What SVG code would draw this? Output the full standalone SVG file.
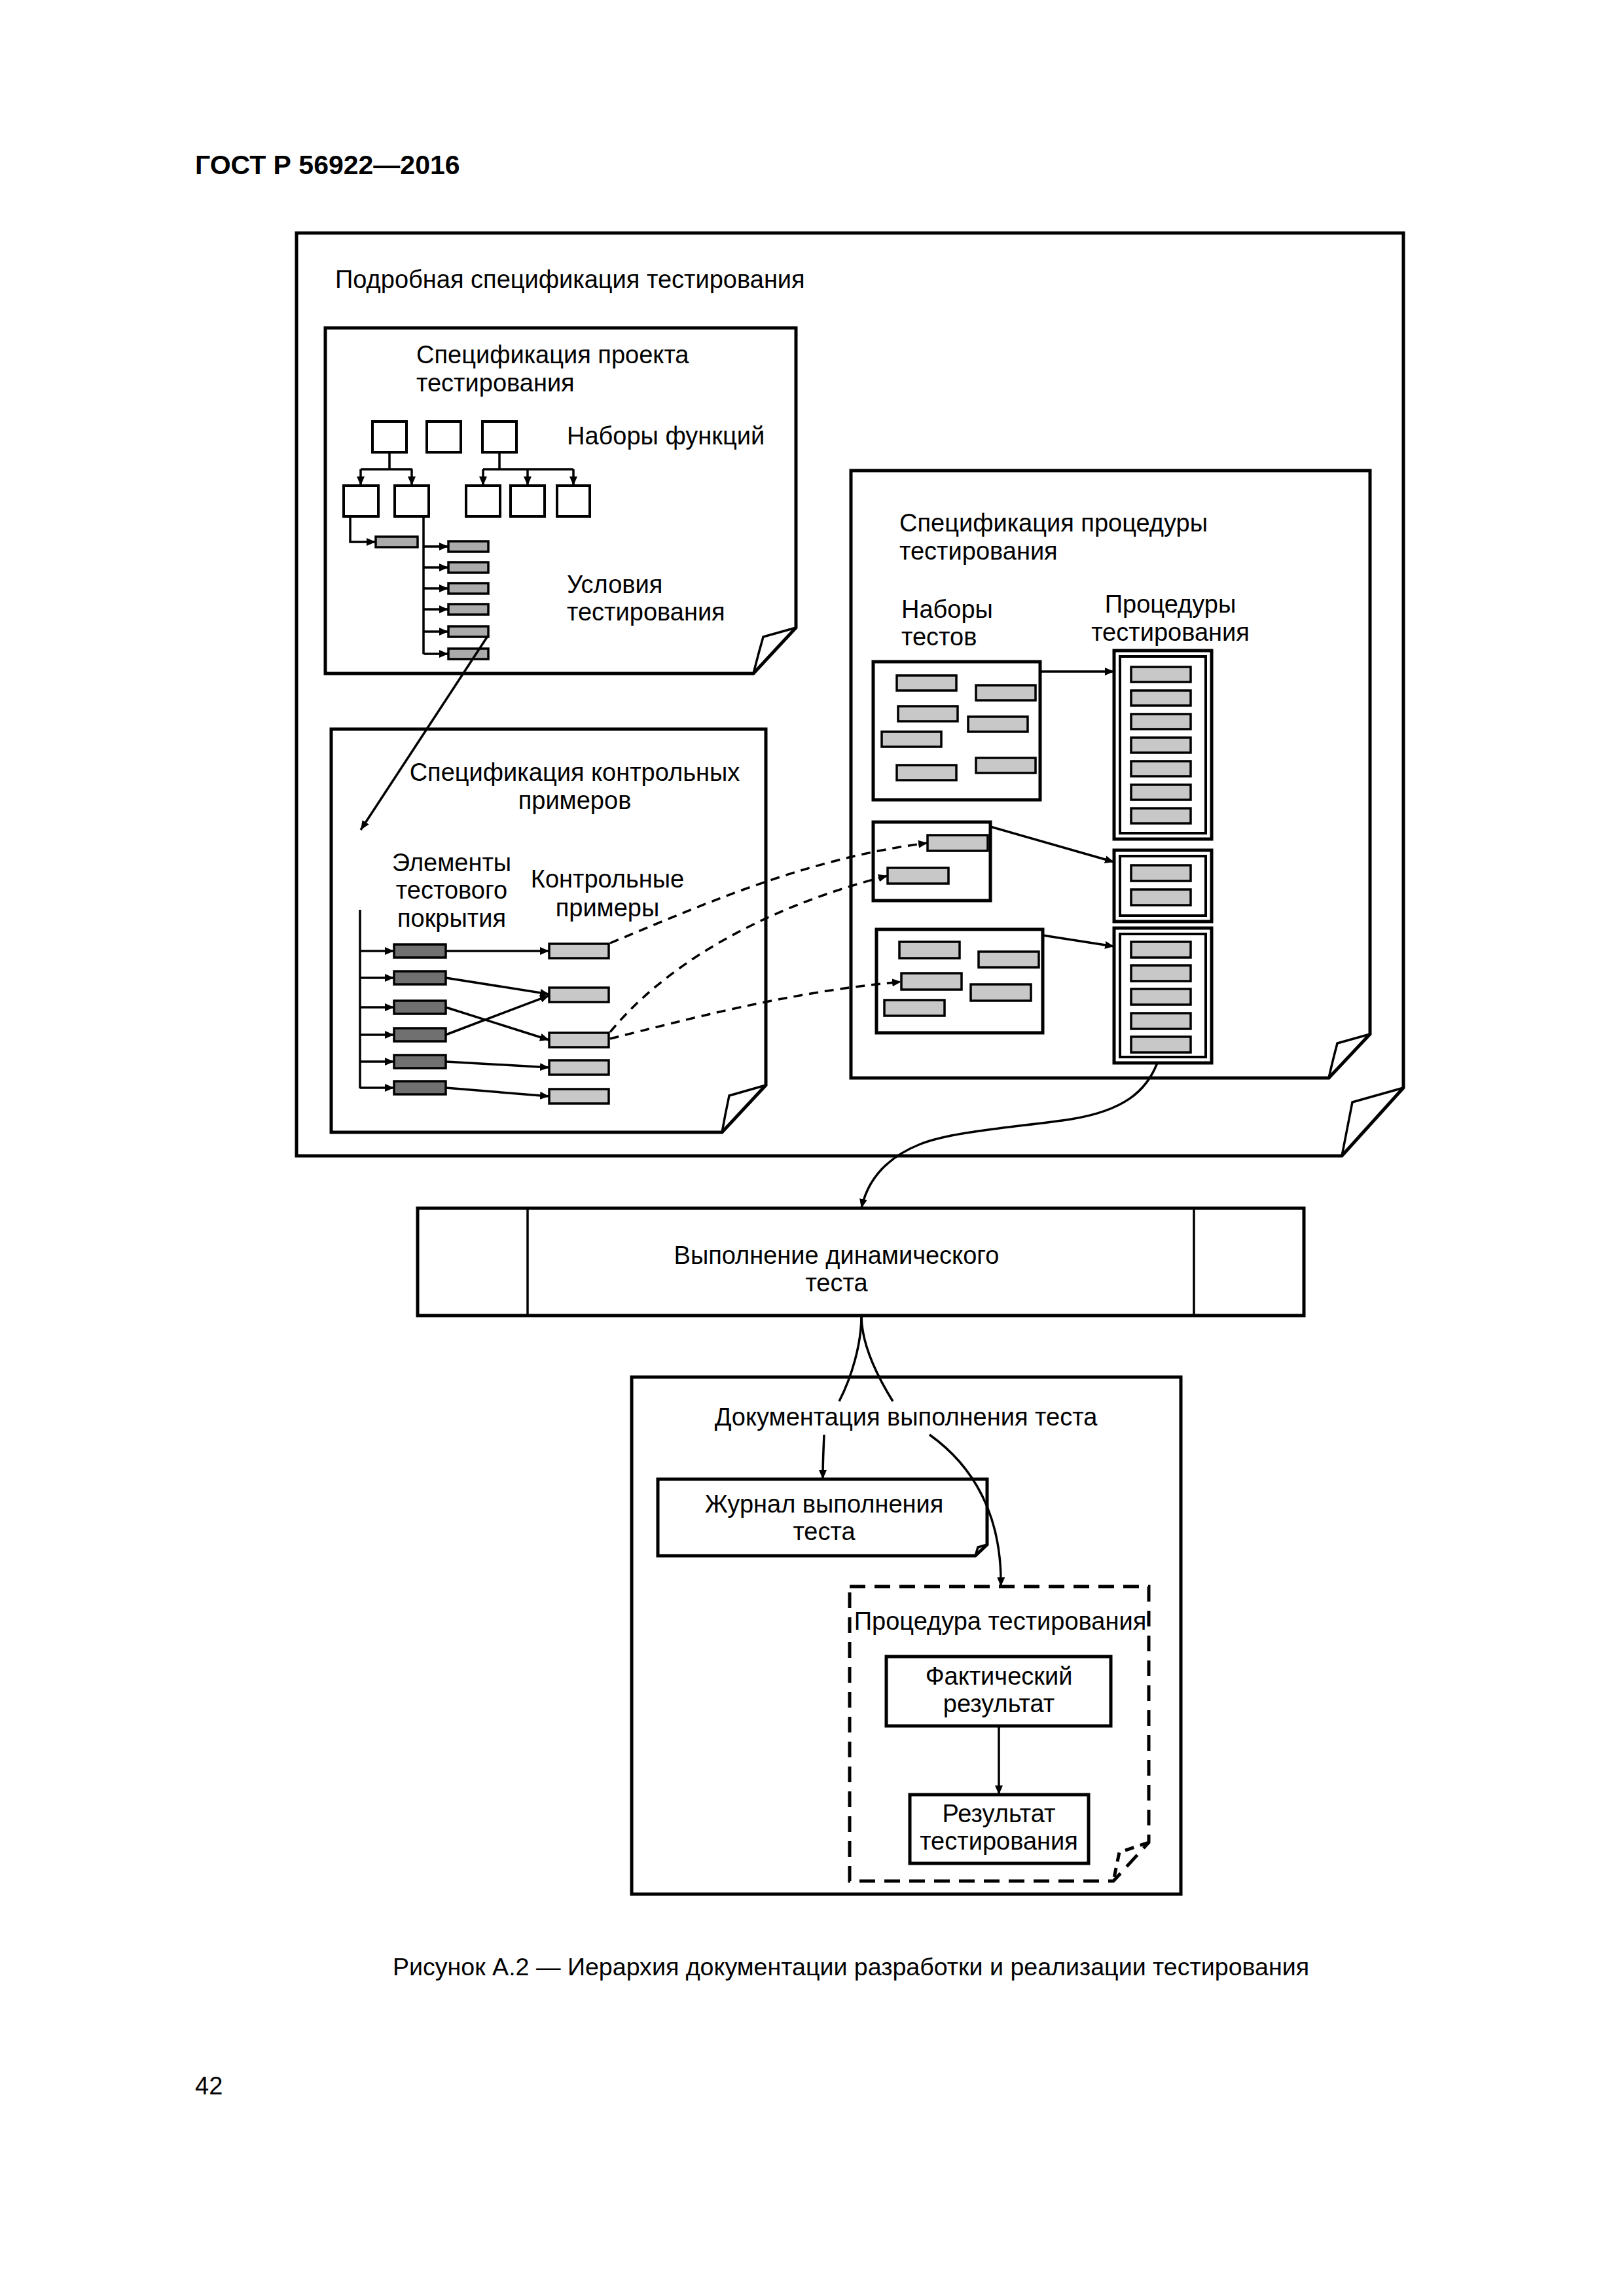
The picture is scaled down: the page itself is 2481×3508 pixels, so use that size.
<svg xmlns="http://www.w3.org/2000/svg" width="2481" height="3508" viewBox="0 0 2481 3508">
<style>
.t{font-family:"Liberation Sans",Arial,sans-serif;font-size:38px;fill:#000}
.c{text-anchor:middle}
.b{font-weight:bold;font-size:41px}
.box{fill:#fff;stroke:#000;stroke-width:5;stroke-linejoin:miter}
.sq{fill:#fff;stroke:#000;stroke-width:4}
.ln{fill:none;stroke:#000;stroke-width:3.5}
.bar{stroke:#000;stroke-width:3.5}
.dk{fill:#707070}
.lt{fill:#c8c8c8}
.md{fill:#ababab}
.dash{fill:none;stroke:#000;stroke-width:3.5;stroke-dasharray:14 10}
.dbox{fill:#fff;stroke:#000;stroke-width:5;stroke-dasharray:24 14}
.frm{fill:none;stroke:#000;stroke-width:4}
</style>
<defs>
<marker id="ah" viewBox="0 0 14 12" refX="14" refY="6" markerWidth="14" markerHeight="12" orient="auto" markerUnits="userSpaceOnUse">
<path d="M0,0 L14,6 L0,12 z" fill="#000"/>
</marker>
</defs>
<rect width="2481" height="3508" fill="#fff"/>
<text class="t b" x="298" y="266">ГОСТ Р 56922—2016</text>

<g id="detailed-spec">
<path class="box" d="M453,356 H2144 V1662 L2050,1766 H453 Z"/>
<path class="ln" d="M2144,1662 L2066,1684 Q2058,1725 2050,1766"/>
<text class="t" x="512" y="440">Подробная спецификация тестирования</text>
</g>

<g id="test-design-spec">
<path class="box" d="M497,501 H1216 V959 L1151,1029 H497 Z"/>
<path class="ln" d="M1216,959 L1166,973 Q1158,1001 1151,1029"/>
<text class="t" x="636" y="555">Спецификация проекта</text>
<text class="t" x="636" y="598">тестирования</text>
<text class="t" x="866" y="679">Наборы функций</text>
<text class="t" x="866" y="906">Условия</text>
<text class="t" x="866" y="948">тестирования</text>
<rect class="sq" x="569" y="644" width="52" height="47"/>
<rect class="sq" x="652" y="644" width="52" height="47"/>
<rect class="sq" x="737" y="644" width="52" height="47"/>
<rect class="sq" x="525" y="742" width="53" height="47"/>
<rect class="sq" x="603" y="742" width="52" height="47"/>
<rect class="sq" x="712" y="742" width="52" height="47"/>
<rect class="sq" x="780" y="742" width="52" height="47"/>
<rect class="sq" x="851" y="742" width="50" height="47"/>
<rect class="bar md" x="574" y="820" width="64" height="16"/>
<rect class="bar md" x="685" y="827" width="61" height="16"/>
<rect class="bar md" x="685" y="859" width="61" height="16"/>
<rect class="bar md" x="685" y="891" width="61" height="16"/>
<rect class="bar md" x="685" y="923" width="61" height="16"/>
<rect class="bar md" x="685" y="957" width="61" height="16"/>
<rect class="bar md" x="685" y="991" width="61" height="16"/>
</g>

<g id="test-case-spec">
<path class="box" d="M506,1114 H1170 V1658 L1103,1730 H506 Z"/>
<path class="ln" d="M1170,1658 L1114,1674 Q1108,1702 1103,1730"/>
<text class="t c" x="878" y="1193">Спецификация контрольных</text>
<text class="t c" x="878" y="1236">примеров</text>
<text class="t c" x="690" y="1331">Элементы</text>
<text class="t c" x="690" y="1373">тестового</text>
<text class="t c" x="690" y="1416">покрытия</text>
<text class="t c" x="928" y="1356">Контрольные</text>
<text class="t c" x="928" y="1400">примеры</text>
<rect class="bar dk" x="602" y="1443" width="79" height="20"/>
<rect class="bar dk" x="602" y="1484" width="79" height="20"/>
<rect class="bar dk" x="602" y="1529" width="79" height="20"/>
<rect class="bar dk" x="602" y="1571" width="79" height="20"/>
<rect class="bar dk" x="602" y="1612" width="79" height="20"/>
<rect class="bar dk" x="602" y="1652" width="79" height="20"/>
<rect class="bar lt" x="839" y="1442" width="91" height="22"/>
<rect class="bar lt" x="839" y="1509" width="91" height="22"/>
<rect class="bar lt" x="839" y="1578" width="91" height="22"/>
<rect class="bar lt" x="839" y="1620" width="91" height="22"/>
<rect class="bar lt" x="839" y="1664" width="91" height="22"/>
</g>

<g id="test-procedure-spec">
<path class="box" d="M1300,719 H2093 V1580 L2030,1647 H1300 Z"/>
<path class="ln" d="M2093,1580 L2043,1594 Q2036,1620 2030,1647"/>
<text class="t" x="1374" y="812">Спецификация процедуры</text>
<text class="t" x="1374" y="855">тестирования</text>
<text class="t" x="1377" y="944">Наборы</text>
<text class="t" x="1377" y="986">тестов</text>
<text class="t c" x="1788" y="936">Процедуры</text>
<text class="t c" x="1788" y="979">тестирования</text>
</g>

<g id="test-set-1">
<rect class="box" x="1334" y="1011" width="255" height="211"/>
<rect class="bar lt" x="1370" y="1032" width="91" height="23"/>
<rect class="bar lt" x="1491" y="1047" width="91" height="23"/>
<rect class="bar lt" x="1372" y="1079" width="91" height="23"/>
<rect class="bar lt" x="1479" y="1095" width="91" height="23"/>
<rect class="bar lt" x="1347" y="1118" width="91" height="23"/>
<rect class="bar lt" x="1370" y="1169" width="91" height="23"/>
<rect class="bar lt" x="1491" y="1158" width="91" height="23"/>
</g>
<g id="test-set-2">
<rect class="box" x="1334" y="1256" width="179" height="120"/>
<rect class="bar lt" x="1417" y="1276" width="92" height="24"/>
<rect class="bar lt" x="1356" y="1326" width="93" height="24"/>
</g>
<g id="test-set-3">
<rect class="box" x="1339" y="1420" width="254" height="158"/>
<rect class="bar lt" x="1374" y="1439" width="92" height="25"/>
<rect class="bar lt" x="1495" y="1454" width="92" height="24"/>
<rect class="bar lt" x="1377" y="1487" width="92" height="25"/>
<rect class="bar lt" x="1483" y="1504" width="92" height="25"/>
<rect class="bar lt" x="1351" y="1528" width="92" height="24"/>
</g>

<g id="procedure-1">
<rect class="box" x="1702" y="994" width="149" height="288"/>
<rect class="frm" x="1711" y="1003" width="131" height="270"/>
<rect class="bar lt" x="1728" y="1019" width="91" height="23"/>
<rect class="bar lt" x="1728" y="1055" width="91" height="23"/>
<rect class="bar lt" x="1728" y="1091" width="91" height="23"/>
<rect class="bar lt" x="1728" y="1127" width="91" height="23"/>
<rect class="bar lt" x="1728" y="1163" width="91" height="23"/>
<rect class="bar lt" x="1728" y="1199" width="91" height="23"/>
<rect class="bar lt" x="1728" y="1235" width="91" height="23"/>
</g>
<g id="procedure-2">
<rect class="box" x="1702" y="1299" width="149" height="109"/>
<rect class="frm" x="1711" y="1308" width="131" height="91"/>
<rect class="bar lt" x="1728" y="1322" width="91" height="24"/>
<rect class="bar lt" x="1728" y="1359" width="91" height="24"/>
</g>
<g id="procedure-3">
<rect class="box" x="1702" y="1418" width="149" height="206"/>
<rect class="frm" x="1711" y="1427" width="131" height="188"/>
<rect class="bar lt" x="1728" y="1439" width="91" height="24"/>
<rect class="bar lt" x="1728" y="1475" width="91" height="24"/>
<rect class="bar lt" x="1728" y="1511" width="91" height="24"/>
<rect class="bar lt" x="1728" y="1548" width="91" height="24"/>
<rect class="bar lt" x="1728" y="1584" width="91" height="24"/>
</g>

<g id="dynamic-execution">
<rect class="box" x="638" y="1846" width="1354" height="164" stroke-width="4.5"/>
<line class="ln" x1="806" y1="1846" x2="806" y2="2010"/>
<line class="ln" x1="1824" y1="1846" x2="1824" y2="2010"/>
<text class="t c" x="1278" y="1931">Выполнение динамического</text>
<text class="t c" x="1278" y="1973">теста</text>
</g>

<g id="execution-docs">
<rect class="box" x="965" y="2104" width="839" height="790"/>
<text class="t c" x="1384" y="2178">Документация выполнения теста</text>
</g>
<g id="execution-log">
<path class="box" d="M1005,2260 H1508 V2360 L1490,2377 H1005 Z"/>
<path class="ln" d="M1508,2360 L1494,2364 L1490,2377"/>
<text class="t c" x="1259" y="2311">Журнал выполнения</text>
<text class="t c" x="1259" y="2353">теста</text>
</g>
<g id="test-procedure">
<path class="dbox" d="M1298,2424 H1755 V2815 L1701,2874 H1298 Z"/>
<path fill="none" stroke="#000" stroke-width="5" stroke-dasharray="14 10" d="M1755,2815 L1710,2830 L1701,2874"/>
<text class="t c" x="1528" y="2490">Процедура тестирования</text>
</g>
<g id="actual-result">
<rect class="box" x="1354" y="2531" width="343" height="106" stroke-width="4.5"/>
<text class="t c" x="1526" y="2574">Фактический</text>
<text class="t c" x="1526" y="2616">результат</text>
</g>
<g id="test-result">
<rect class="box" x="1390" y="2742" width="273" height="105" stroke-width="4.5"/>
<text class="t c" x="1526" y="2784">Результат</text>
<text class="t c" x="1526" y="2826">тестирования</text>
</g>

<g id="connectors">
<path class="ln" d="M595,691 V717 M551,717 H630"/>
<path class="ln" d="M551,717 V742" marker-end="url(#ah)"/>
<path class="ln" d="M629,717 V742" marker-end="url(#ah)"/>
<path class="ln" d="M763,691 V717 M738,717 H876"/>
<path class="ln" d="M738,717 V742" marker-end="url(#ah)"/>
<path class="ln" d="M806,717 V742" marker-end="url(#ah)"/>
<path class="ln" d="M876,717 V742" marker-end="url(#ah)"/>
<path class="ln" d="M535,789 V828 H574" marker-end="url(#ah)"/>
<path class="ln" d="M647,789 V999"/>
<path class="ln" d="M647,835 H685" marker-end="url(#ah)"/>
<path class="ln" d="M647,867 H685" marker-end="url(#ah)"/>
<path class="ln" d="M647,899 H685" marker-end="url(#ah)"/>
<path class="ln" d="M647,931 H685" marker-end="url(#ah)"/>
<path class="ln" d="M647,965 H685" marker-end="url(#ah)"/>
<path class="ln" d="M647,999 H685" marker-end="url(#ah)"/>
<path class="ln" d="M745,972 L551,1268" marker-end="url(#ah)"/>

<path class="ln" d="M550,1390 V1663"/>
<path class="ln" d="M550,1453 H602" marker-end="url(#ah)"/>
<path class="ln" d="M550,1494 H602" marker-end="url(#ah)"/>
<path class="ln" d="M550,1539 H602" marker-end="url(#ah)"/>
<path class="ln" d="M550,1581 H602" marker-end="url(#ah)"/>
<path class="ln" d="M550,1622 H602" marker-end="url(#ah)"/>
<path class="ln" d="M550,1662 H602" marker-end="url(#ah)"/>
<path class="ln" d="M681,1453 H839" marker-end="url(#ah)"/>
<path class="ln" d="M681,1494 L839,1519" marker-end="url(#ah)"/>
<path class="ln" d="M681,1539 L839,1589" marker-end="url(#ah)"/>
<path class="ln" d="M681,1581 L839,1521" marker-end="url(#ah)"/>
<path class="ln" d="M681,1622 L839,1631" marker-end="url(#ah)"/>
<path class="ln" d="M681,1662 L839,1675" marker-end="url(#ah)"/>

<path class="dash" d="M932,1441 C1060,1388 1230,1311 1417,1288" marker-end="url(#ah)"/>
<path class="dash" d="M932,1577 C1010,1482 1150,1391 1356,1338" marker-end="url(#ah)"/>
<path class="dash" d="M932,1587 C1050,1558 1200,1516 1377,1500" marker-end="url(#ah)"/>

<path class="ln" d="M1589,1026 H1702" marker-end="url(#ah)"/>
<path class="ln" d="M1513,1263 L1702,1317" marker-end="url(#ah)"/>
<path class="ln" d="M1593,1429 L1702,1446" marker-end="url(#ah)"/>

<path class="ln" d="M1768,1624 C1751,1668 1716,1697 1636,1710 C1556,1722 1456,1728 1406,1748 C1356,1768 1326,1800 1316,1846" marker-end="url(#ah)"/>

<path class="ln" d="M1316,2010 C1316,2054 1301,2104 1282,2141"/>
<path class="ln" d="M1316,2010 C1316,2054 1341,2104 1364,2141"/>
<path class="ln" d="M1259,2192 C1258,2214 1257,2238 1257,2260" marker-end="url(#ah)"/>
<path class="ln" d="M1420,2192 C1486,2239 1531,2314 1529,2424" marker-end="url(#ah)"/>
<path class="ln" d="M1526,2637 V2742" marker-end="url(#ah)"/>
</g>

<text class="t c" x="1300" y="3018" style="font-size:37.6px">Рисунок А.2 — Иерархия документации разработки и реализации тестирования</text>
<text class="t" x="298" y="3200">42</text>
</svg>
